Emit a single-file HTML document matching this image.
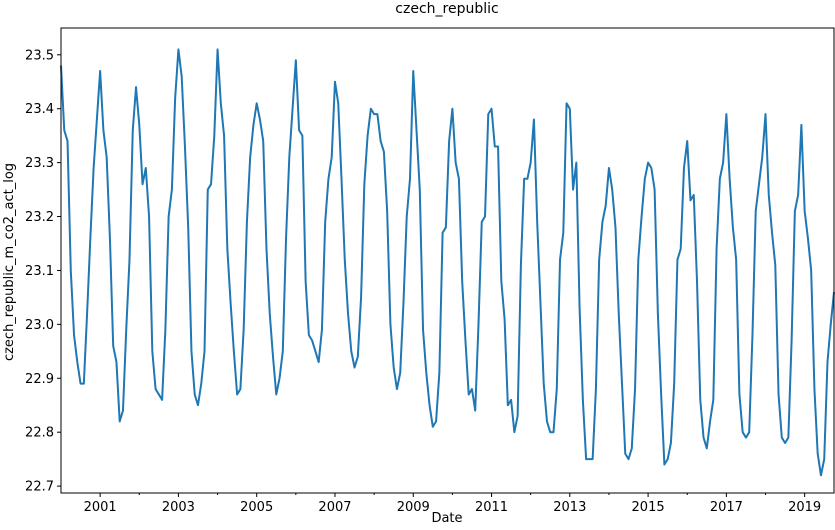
<!DOCTYPE html>
<html><head><meta charset="utf-8"><style>
body{margin:0;background:#fff;font-family:"Liberation Sans","DejaVu Sans",sans-serif;}
svg text{font-family:"DejaVu Sans","Liberation Sans",sans-serif;fill:#000;}
</style></head><body>
<svg id="chart" width="835" height="525" xmlns="http://www.w3.org/2000/svg">
<rect width="835" height="525" fill="#fff"/>
<text x="447" y="13" font-size="14" text-anchor="middle">czech_republic</text>
<text x="447" y="522" font-size="13" text-anchor="middle">Date</text>
<text x="0" y="0" font-size="13" text-anchor="middle" transform="translate(13,262) rotate(-90)">czech_republic_m_co2_act_log</text>
<g id="axes"></g>
<path id="series" fill="none" stroke="#1f77b4" stroke-width="2" stroke-linejoin="round"/>
<rect x="61" y="28" width="773" height="465" fill="none" stroke="#000" stroke-width="1"/>
</svg>
<script>
const startYear = 2000;
const yTicks = [22.7, 22.8, 22.9, 23.0, 23.1, 23.2, 23.3, 23.4, 23.5];
const xTickYears = [2001, 2003, 2005, 2007, 2009, 2011, 2013, 2015, 2017, 2019];
const values = [
23.48,23.36,23.34,23.10,22.98,22.93,22.89,22.89,23.02,23.16,23.29,23.38,
23.47,23.36,23.31,23.16,22.96,22.93,22.82,22.84,22.99,23.12,23.36,23.44,
23.37,23.26,23.29,23.20,22.95,22.88,22.87,22.86,22.99,23.20,23.25,23.42,
23.51,23.46,23.33,23.18,22.95,22.87,22.85,22.89,22.95,23.25,23.26,23.35,
23.51,23.41,23.35,23.14,23.04,22.95,22.87,22.88,22.99,23.19,23.31,23.37,
23.41,23.38,23.34,23.14,23.02,22.94,22.87,22.90,22.95,23.16,23.31,23.40,
23.49,23.36,23.35,23.08,22.98,22.97,22.95,22.93,22.99,23.19,23.27,23.31,
23.45,23.41,23.27,23.12,23.02,22.95,22.92,22.94,23.05,23.26,23.35,23.40,
23.39,23.39,23.34,23.32,23.21,23.00,22.92,22.88,22.91,23.04,23.20,23.27,
23.47,23.36,23.25,22.99,22.91,22.85,22.81,22.82,22.91,23.17,23.18,23.34,
23.40,23.30,23.27,23.08,22.97,22.87,22.88,22.84,23.00,23.19,23.20,23.39,
23.40,23.33,23.33,23.08,23.01,22.85,22.86,22.80,22.83,23.11,23.27,23.27,
23.30,23.38,23.19,23.04,22.89,22.82,22.80,22.80,22.88,23.12,23.17,23.41,
23.40,23.25,23.30,23.03,22.86,22.75,22.75,22.75,22.88,23.12,23.19,23.22,
23.29,23.25,23.18,23.02,22.89,22.76,22.75,22.77,22.88,23.12,23.20,23.27,
23.30,23.29,23.25,23.02,22.87,22.74,22.75,22.78,22.89,23.12,23.14,23.29,
23.34,23.23,23.24,23.08,22.86,22.79,22.77,22.82,22.86,23.14,23.27,23.30,
23.39,23.27,23.18,23.12,22.87,22.80,22.79,22.80,22.98,23.21,23.26,23.31,
23.39,23.24,23.17,23.11,22.87,22.79,22.78,22.79,22.97,23.21,23.24,23.37,
23.21,23.16,23.10,22.88,22.76,22.72,22.75,22.93,23.00,23.06
];
const L=61,R=834,T=28,B=493,yMin=22.6872,yMax=23.5497;
const nMonths = 237;
function xs(m){return L+(m/nMonths)*(R-L);}
function ys(v){return B-(v-yMin)/(yMax-yMin)*(B-T);}
const NS="http://www.w3.org/2000/svg";
const axes=document.getElementById('axes');
yTicks.forEach(t=>{
  const y=ys(t);
  const ln=document.createElementNS(NS,'line');
  ln.setAttribute('x1',L-4);ln.setAttribute('x2',L);ln.setAttribute('y1',y);ln.setAttribute('y2',y);ln.setAttribute('stroke','#000');
  
  
  axes.appendChild(ln);
  const tx=document.createElementNS(NS,'text');
  tx.setAttribute('x',L-7);tx.setAttribute('y',y+4.5);tx.setAttribute('font-size','13');tx.setAttribute('text-anchor','end');
  tx.textContent=t.toFixed(1);
  
  
  axes.appendChild(tx);
});
for(let yr=2001;yr<=2019;yr++){
  const x=xs((yr-startYear)*12);
  const major=xTickYears.includes(yr);
  const ln=document.createElementNS(NS,'line');
  ln.setAttribute('x1',x);ln.setAttribute('x2',x);ln.setAttribute('y1',B);ln.setAttribute('y2',B+(major?4:2));ln.setAttribute('stroke','#000');
  
  
  axes.appendChild(ln);
  if(major){
    const tx=document.createElementNS(NS,'text');
    tx.setAttribute('x',x);tx.setAttribute('y',B+18);tx.setAttribute('font-size','13');tx.setAttribute('text-anchor','middle');
    tx.textContent=yr;
    
    
    axes.appendChild(tx);
  }
}
document.getElementById('series').setAttribute('d',values.map((v,i)=>(i?'L':'M')+xs(i).toFixed(2)+','+ys(v).toFixed(2)).join(''));
</script>
</body></html>
